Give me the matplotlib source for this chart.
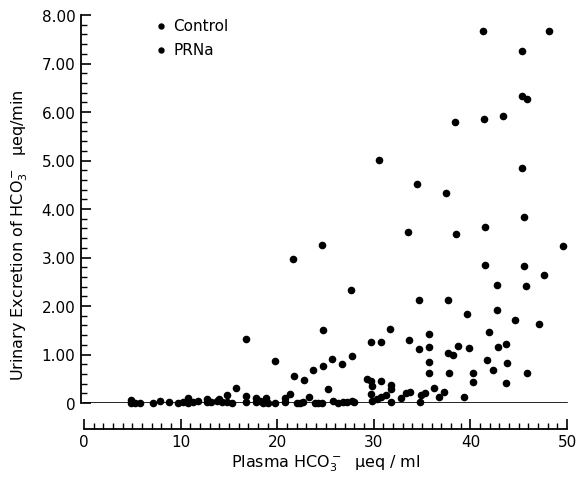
import numpy as np
import matplotlib.pyplot as plt
from matplotlib.ticker import MultipleLocator, FixedLocator

# plasma HCO3 (ueq/ml) and urinary excretion (ueq/min)
control_x = [4.9, 4.9, 5.3, 5.8, 7.2, 7.9, 8.8, 9.7, 10.3, 10.8, 10.8, 11.3, 11.8,
             12.7, 12.7, 13.2, 13.8, 14.0, 14.3, 14.8, 15.3, 16.8,
             17.8, 18.2, 18.5, 19.0, 19.8, 20.8, 22.0, 22.4, 22.7, 23.9, 24.2,
             24.6, 25.8, 26.3, 26.8, 27.2, 27.7, 28.0, 29.8, 31.8, 34.8]
control_y = [0.06, 0.01, 0.01, 0.0, 0.0, 0.05, 0.02, 0.0, 0.02, 0.10, 0.01, 0.02, 0.04,
             0.08, 0.02, 0.02, 0.04, 0.08, 0.02, 0.02, 0.0, 0.02,
             0.03, 0.05, 0.0, 0.0, 0.0, 0.03, 0.0, 0.0, 0.02, 0.0, 0.0,
             0.0, 0.04, 0.0, 0.02, 0.02, 0.04, 0.02, 0.04, 0.02, 0.02]

prna_x = [41.3, 48.1, 45.3, 45.3, 45.8, 38.4, 41.4, 43.4, 30.5, 45.3, 34.5, 37.5,
          45.5, 33.5, 38.5, 41.5, 24.6, 49.6, 21.6, 41.5, 45.5, 47.6, 42.7, 45.7,
          27.6, 34.7, 37.7, 42.7, 39.6, 44.6, 47.1, 24.7, 31.7, 41.9, 35.7, 29.7,
          30.7, 33.6, 34.7, 35.7, 38.7, 39.8, 42.8, 43.7, 37.7, 38.2, 27.7, 25.7,
          26.7, 24.7, 23.7, 22.8, 19.8, 21.7, 35.7, 41.7, 43.8, 42.3, 35.7, 37.8,
          40.3, 45.8, 40.3, 43.7, 25.3, 23.3, 29.3, 29.7, 30.7, 29.8, 31.8, 31.8,
          29.7, 30.7, 31.3, 30.3, 32.8, 33.3, 33.7, 34.9, 35.3, 36.2, 36.7, 37.3,
          39.3, 21.3, 17.8, 18.8, 20.8, 15.7, 14.8, 16.8, 16.8]
prna_y = [7.67, 7.67, 7.26, 6.33, 6.27, 5.79, 5.86, 5.92, 5.01, 4.85, 4.52, 4.33,
          3.84, 3.53, 3.48, 3.63, 3.26, 3.24, 2.97, 2.85, 2.82, 2.64, 2.43, 2.41,
          2.33, 2.12, 2.12, 1.92, 1.84, 1.71, 1.63, 1.51, 1.53, 1.46, 1.42, 1.26,
          1.26, 1.30, 1.11, 1.15, 1.18, 1.13, 1.15, 1.22, 1.03, 0.99, 0.97, 0.91,
          0.80, 0.76, 0.68, 0.47, 0.87, 0.56, 0.85, 0.89, 0.82, 0.68, 0.62, 0.62,
          0.62, 0.62, 0.43, 0.41, 0.29, 0.12, 0.49, 0.45, 0.45, 0.35, 0.37, 0.29,
          0.19, 0.12, 0.16, 0.08, 0.10, 0.21, 0.23, 0.16, 0.21, 0.31, 0.12, 0.23,
          0.12, 0.19, 0.10, 0.10, 0.10, 0.31, 0.16, 0.14, 1.32]

y_ticks = [0, 1, 2, 3, 4, 5, 6, 7, 8]
y_labels = ["0", "1.00", "2.00", "3.00", "4.00", "5.00", "6.00", "7.00", "8.00"]

plt.rcParams['font.family'] = 'DejaVu Sans'
fig = plt.figure(figsize=(5.82, 4.81), dpi=100)
ax = fig.add_axes([81 / 582, 77 / 481, 489 / 582, 388 / 481])

ax.scatter(control_x, control_y, s=20, color='black', label='Control', clip_on=False, zorder=3)
ax.scatter(prna_x, prna_y, s=20, color='black', label='PRNa', clip_on=False, zorder=3)
ax.plot([0, 50], [0, 0], color='black', lw=1.2)

ax.set_xlim(-0.3, 50.3)
ax.set_ylim(0, 8)

for s in ['top', 'right']:
    ax.spines[s].set_visible(False)
ax.spines['left'].set_bounds(0, 8)
ax.spines['bottom'].set_position(('outward', 18.5))
ax.spines['bottom'].set_bounds(0, 50)
ax.spines['left'].set_linewidth(1.3)
ax.spines['bottom'].set_linewidth(1.3)

ax.yaxis.set_major_locator(FixedLocator(y_ticks))
ax.set_yticklabels(y_labels)
ax.yaxis.set_minor_locator(MultipleLocator(0.2))
ax.xaxis.set_major_locator(MultipleLocator(10))
ax.xaxis.set_minor_locator(MultipleLocator(1))
ax.tick_params(axis='both', which='major', direction='in', length=7, width=1.2, labelsize=11)
ax.tick_params(axis='both', which='minor', direction='in', length=4, width=1.0)
ax.tick_params(axis='y', pad=4)
ax.tick_params(axis='x', pad=4)

ax.set_xlabel('Plasma HCO$_3^-$  μeq / ml', fontsize=11.5, labelpad=2)
ax.set_ylabel('Urinary Excretion of HCO$_3^-$  μeq/min', fontsize=11.5)
ax.yaxis.set_label_coords(-0.104, 0.435)

ax.legend(loc='upper left', bbox_to_anchor=(0.12, 1.027), frameon=False, fontsize=11,
          handletextpad=0.3, labelspacing=0.55, markerscale=0.8, handlelength=1.0)

fig.savefig('out.png', dpi=100)
